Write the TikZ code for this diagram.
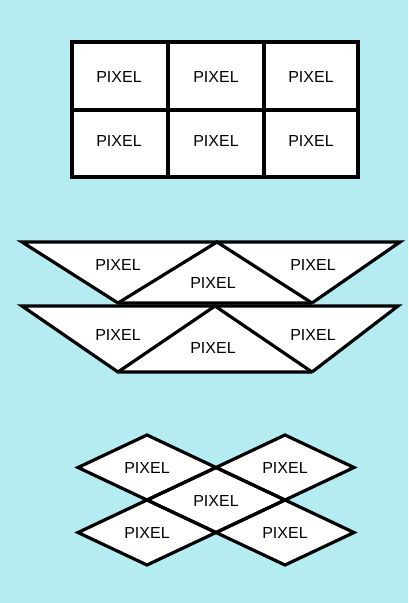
\documentclass[tikz,border=0pt]{standalone}
\usepackage{fontspec}
\setmainfont{Liberation Sans}
\usepackage{xcolor}
\definecolor{sheet}{RGB}{180,236,242}
\tikzset{
	pixel/.style={draw=black,line width=3.6pt,line join=miter,fill=white},
	edge/.style={draw=black,line width=3.2pt,line join=miter},
	lbl/.style={font=\fontsize{16}{19}\selectfont,inner sep=0pt}
}

\begin{document}
\begin{tikzpicture}[x=1pt,y=-1pt]
		
		% Background sheet
		\fill[sheet] (0,0) rectangle (408,603);
		\useasboundingbox (0,0) rectangle (408,603);
		
		% Square pixels
		\draw[pixel] (72,42) rectangle (358,177);
		\draw[edge] (72,110) -- (358,110);
		\draw[edge] (168,42) -- (168,177);
		\draw[edge] (264,42) -- (264,177);
		\node[lbl] (sq1) at (119,77) {PIXEL};
		\node[lbl] (sq2) at (216,77) {PIXEL};
		\node[lbl] (sq3) at (311,77) {PIXEL};
		\node[lbl] (sq4) at (119,141) {PIXEL};
		\node[lbl] (sq5) at (216,141) {PIXEL};
		\node[lbl] (sq6) at (311,141) {PIXEL};
		
		% Triangular pixels (two rows)
		\fill[white] (22,242) -- (400,242) -- (312,303) -- (118,303) -- cycle;
		\fill[white] (22,306) -- (398,306) -- (312,372) -- (118,372) -- cycle;
		\draw[edge] (312,303) -- (400,242) -- (22,242) -- (118,303) -- (312,303);
		\draw[edge] (118,303) -- (217,242) -- (312,303);
		\draw[edge] (312,372) -- (398,306) -- (22,306) -- (118,372) -- (312,372);
		\draw[edge] (118,372) -- (215,306) -- (312,372);
		\node[lbl] (tr1) at (118,265) {PIXEL};
		\node[lbl] (tr2) at (213,283) {PIXEL};
		\node[lbl] (tr3) at (313,265) {PIXEL};
		\node[lbl] (tr4) at (118,335) {PIXEL};
		\node[lbl] (tr5) at (213,348) {PIXEL};
		\node[lbl] (tr6) at (313,335) {PIXEL};
		
		% Diamond pixels
		\foreach \cx/\cy in {147/467.5,285/467.5,216/500,147/532.5,285/532.5}
		\fill[white] (\cx,\cy) +(-69,0) -- +(0,-32.5) -- +(69,0) -- +(0,32.5) -- cycle;
		\foreach \cx/\cy in {147/467.5,285/467.5,216/500,147/532.5,285/532.5}
		\draw[edge] (\cx,\cy) +(-69,0) -- +(0,-32.5) -- +(69,0) -- +(0,32.5) -- cycle;
		\node[lbl] (di1) at (147,468) {PIXEL};
		\node[lbl] (di2) at (285,468) {PIXEL};
		\node[lbl] (di3) at (216,501) {PIXEL};
		\node[lbl] (di4) at (147,533) {PIXEL};
		\node[lbl] (di5) at (285,533) {PIXEL};
		
	\end{tikzpicture}
\end{document}
